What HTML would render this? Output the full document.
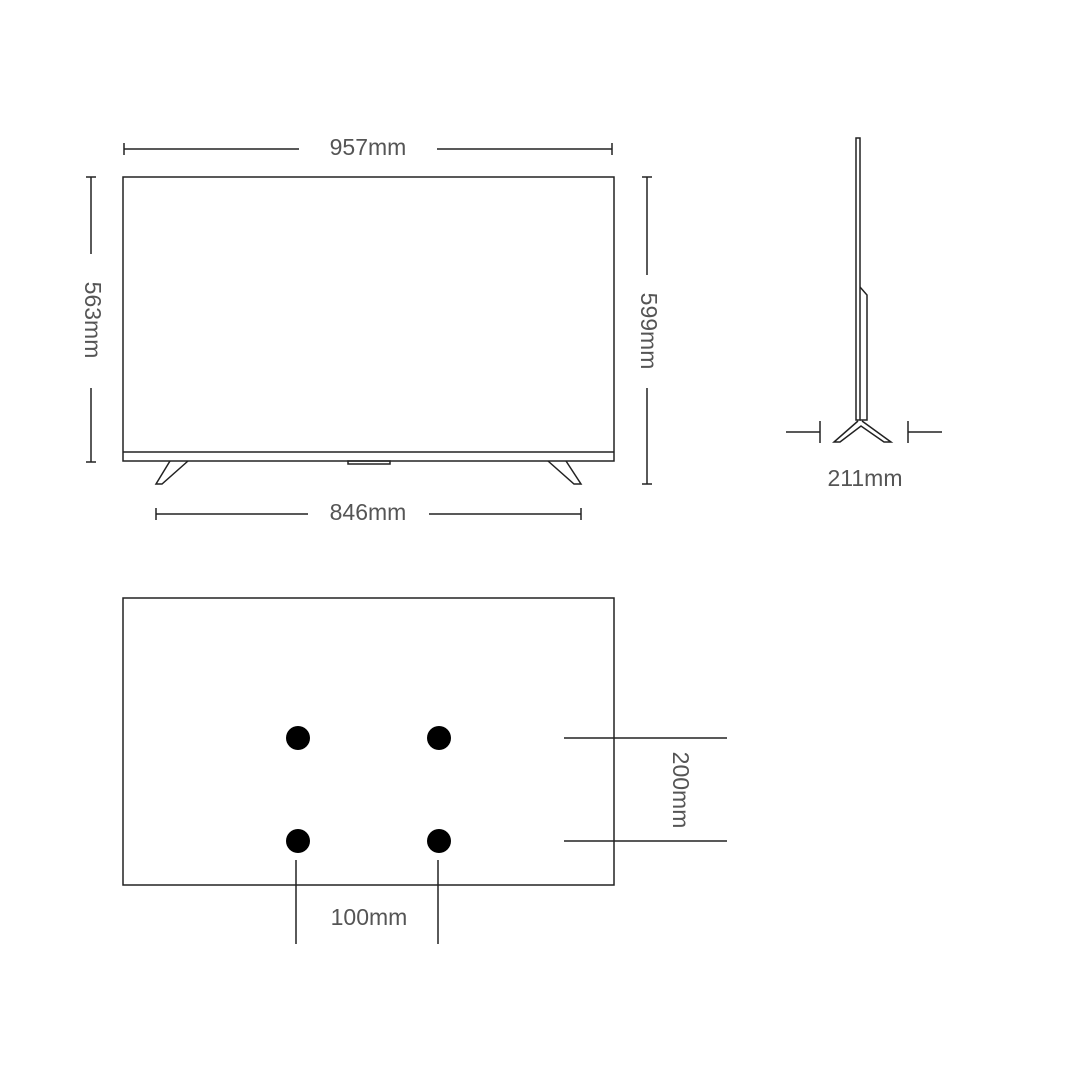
<!DOCTYPE html>
<html><head><style>
html,body{margin:0;padding:0;background:#fff;}
svg text{font-family:"Liberation Sans",sans-serif;font-size:23px;fill:#555;}
</style></head><body>
<svg width="1080" height="1080" viewBox="0 0 1080 1080" xmlns="http://www.w3.org/2000/svg">
<g stroke="#222" stroke-width="1.5" fill="none">
<line x1="124" y1="149" x2="299" y2="149"/><line x1="437" y1="149" x2="612" y2="149"/>
<line x1="124" y1="143" x2="124" y2="155"/><line x1="612" y1="143" x2="612" y2="155"/>
<rect x="123" y="177" width="491" height="284"/>
<line x1="123" y1="452" x2="614" y2="452"/>
<rect x="348" y="461" width="42" height="3"/>
<path d="M170 461 L156 484 L162 484 L188 461"/>
<path d="M548 461 L574 484 L581 484 L566 461"/>
<line x1="91" y1="177" x2="91" y2="254"/><line x1="91" y1="388" x2="91" y2="462"/>
<line x1="86" y1="177" x2="96" y2="177"/><line x1="86" y1="462" x2="96" y2="462"/>
<line x1="647" y1="177" x2="647" y2="275"/><line x1="647" y1="388" x2="647" y2="484"/>
<line x1="642" y1="177" x2="652" y2="177"/><line x1="642" y1="484" x2="652" y2="484"/>
<line x1="156" y1="514" x2="308" y2="514"/><line x1="429" y1="514" x2="581" y2="514"/>
<line x1="156" y1="508" x2="156" y2="520"/><line x1="581" y1="508" x2="581" y2="520"/>
<rect x="856" y="138" width="4" height="282"/>
<path d="M860 287 L867 295 L867 420 L860 420"/>
<path d="M858 421 L834 442 L840 442 L861 426 L884 442 L891 442 L862 421"/>
<line x1="786" y1="432" x2="820" y2="432"/><line x1="820" y1="421" x2="820" y2="443"/>
<line x1="908" y1="432" x2="942" y2="432"/><line x1="908" y1="421" x2="908" y2="443"/>
<rect x="123" y="598" width="491" height="287"/>
<line x1="564" y1="738" x2="727" y2="738"/><line x1="564" y1="841" x2="727" y2="841"/>
<line x1="296" y1="860" x2="296" y2="944"/><line x1="438" y1="860" x2="438" y2="944"/>
</g>
<g fill="#000">
<circle cx="298" cy="738" r="12"/><circle cx="439" cy="738" r="12"/>
<circle cx="298" cy="841" r="12"/><circle cx="439" cy="841" r="12"/>
</g>
<text x="368" y="155" text-anchor="middle">957mm</text>
<text x="368" y="520" text-anchor="middle">846mm</text>
<text x="865" y="486" text-anchor="middle">211mm</text>
<text x="369" y="925" text-anchor="middle">100mm</text>
<text transform="translate(85,320) rotate(90)" text-anchor="middle">563mm</text>
<text transform="translate(641,331) rotate(90)" text-anchor="middle">599mm</text>
<text transform="translate(673,790) rotate(90)" text-anchor="middle">200mm</text>
</svg>
</body></html>
